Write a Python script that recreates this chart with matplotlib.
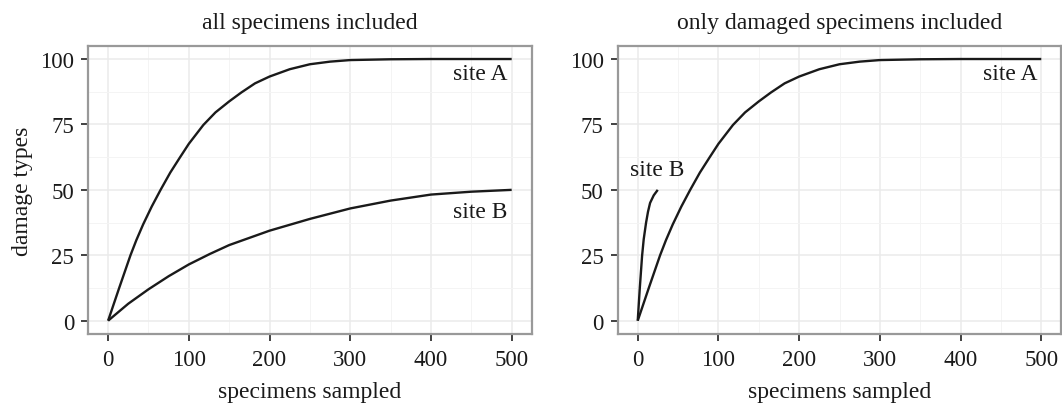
import matplotlib
matplotlib.use("Agg")
import matplotlib.pyplot as plt

# curves
a_x = [0, 13.7, 27.7, 35, 43.4, 54, 65, 77, 88.8, 100, 118, 133, 150, 165, 182, 200, 225, 250, 275, 300, 350, 400, 450, 500]
a_y = [0, 12.5, 25, 30.8, 36.8, 43.6, 50, 56.6, 62.3, 67.6, 74.8, 79.6, 83.8, 87.2, 90.7, 93.3, 96.1, 98.0, 99.0, 99.6, 99.9, 100, 100, 100]

b_all_x = [0, 25, 50, 75, 100, 126, 150, 200, 250, 300, 350, 400, 450, 500]
b_all_y = [0, 6.5, 12, 17, 21.5, 25.5, 28.9, 34.4, 38.9, 42.9, 45.9, 48.2, 49.3, 50]

b_dmg_x = [0, 2.5, 5.4, 7.4, 10.3, 12.7, 15.3, 19.8, 24.8]
b_dmg_y = [0, 12.2, 24.8, 31.1, 37.4, 41.6, 45, 47.9, 50]

titles = ["all specimens included", "only damaged specimens included"]
xticks = [0, 100, 200, 300, 400, 500]
yticks = [0, 25, 50, 75, 100]

plt.rcParams["font.family"] = ["Liberation Serif", "DejaVu Serif"]
ink = "#1a1a1a"

fig = plt.figure(figsize=(10.62, 4.06), dpi=100)
ax1 = fig.add_axes([0.0828, 0.1754, 0.418, 0.709])
ax2 = fig.add_axes([0.5815, 0.1754, 0.418, 0.709])

line_kw = dict(color=ink, linewidth=1.7, solid_capstyle="butt", solid_joinstyle="round")

for ax, title in zip([ax1, ax2], titles):
    ax.set_xlim(-25, 525)
    ax.set_ylim(-5, 105)
    ax.set_xticks(xticks)
    ax.set_yticks(yticks)
    ax.set_xticks([50, 150, 250, 350, 450], minor=True)
    ax.set_yticks([12.5, 37.5, 62.5, 87.5], minor=True)
    ax.grid(which="major", color="#ebebeb", linewidth=1.1)
    ax.grid(which="minor", color="#f4f4f4", linewidth=0.7)
    ax.set_axisbelow(True)
    ax.tick_params(which="major", length=5, width=1.3, color="#333333",
                   labelsize=16.5, labelcolor=ink)
    ax.tick_params(axis="x", which="major", pad=6)
    ax.tick_params(axis="y", which="major", pad=5)
    ax.tick_params(which="minor", length=0)
    for s in ax.spines.values():
        s.set_color("#999999")
        s.set_linewidth(1.6)
    ax.set_title(title, fontsize=17, pad=13, color=ink)
    ax.set_xlabel("specimens sampled", fontsize=17, color=ink, labelpad=8)
    ax.plot(a_x, a_y, **line_kw)
    ax.text(495, 94.3, "site A", ha="right", va="center", fontsize=17, color=ink)

ax1.set_ylabel("damage types", fontsize=17, color=ink, labelpad=5)
ax1.plot(b_all_x, b_all_y, **line_kw)
ax1.text(495, 41.8, "site B", ha="right", va="center", fontsize=17, color=ink)

ax2.plot(b_dmg_x, b_dmg_y, **line_kw)
ax2.text(23.5, 57.7, "site B", ha="center", va="center", fontsize=17, color=ink)

fig.savefig("out.png", dpi=100)
